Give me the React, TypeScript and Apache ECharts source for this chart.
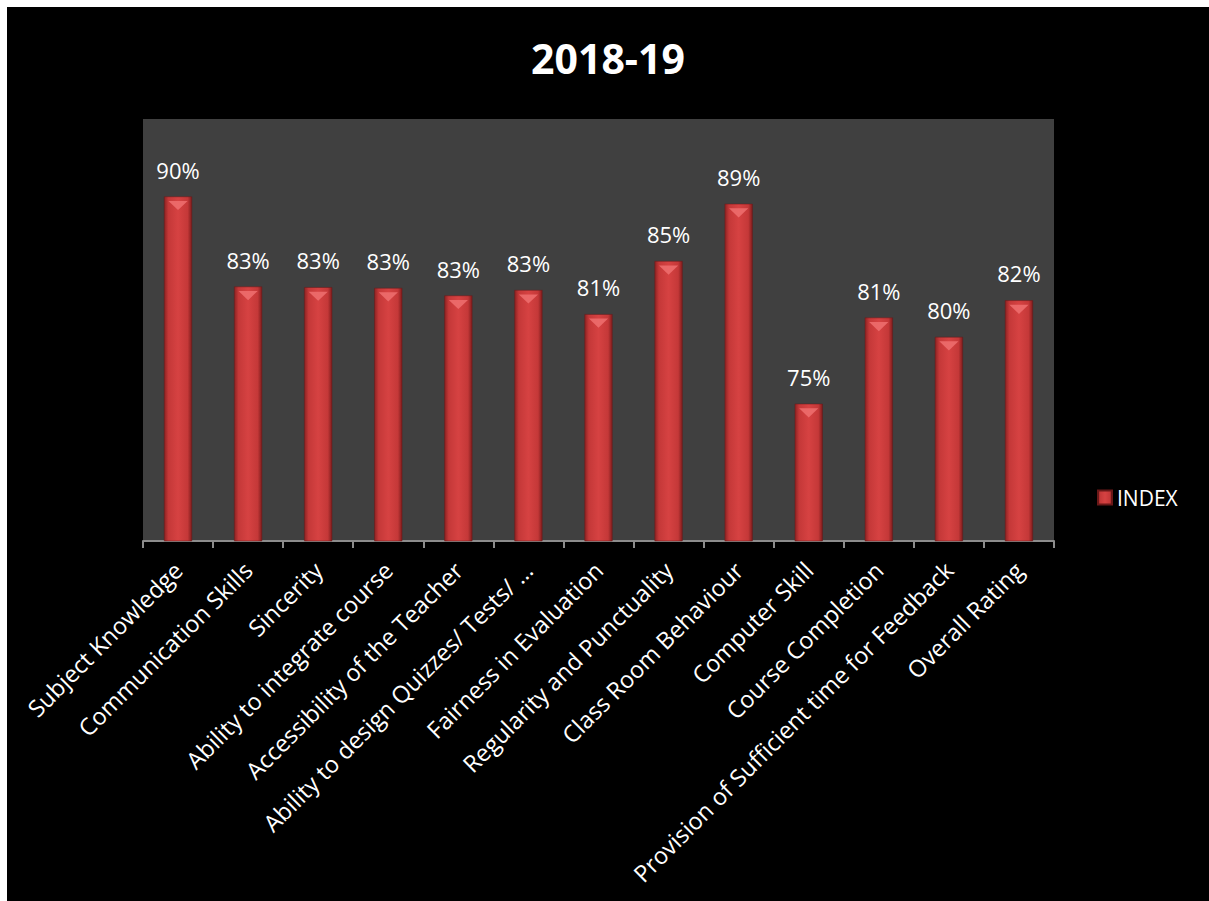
import React, { useEffect, useRef } from "react";
import * as echarts from "echarts";

const categories = [
  "Subject Knowledge",
  "Communication Skills",
  "Sincerity",
  "Ability to integrate course",
  "Accessibility of the Teacher",
  "Ability to design Quizzes/ Tests/ …",
  "Fairness in Evaluation",
  "Regularity and Punctuality",
  "Class Room Behaviour",
  "Computer Skill",
  "Course Completion",
  "Provision of Sufficient time for Feedback",
  "Overall Rating",
];

const indexValues = [
  0.8998, 0.8345, 0.834, 0.8335, 0.828, 0.832, 0.8145, 0.853, 0.8945, 0.7495,
  0.812, 0.798, 0.8245,
];

const seriesName = "INDEX";
const titleText = "2018-19";

export default function App() {
  const ref = useRef<HTMLDivElement>(null);
  useEffect(() => {
    if (!ref.current) return;
    const chart = echarts.init(ref.current, null, { renderer: "svg" });
    const font = "'Open Sans', sans-serif";
    const barGrad = new echarts.graphic.LinearGradient(0, 0, 1, 0, [
      { offset: 0, color: "#8e2222" },
      { offset: 0.15, color: "#c43838" },
      { offset: 0.5, color: "#d64242" },
      { offset: 0.85, color: "#c43838" },
      { offset: 1, color: "#7e1c1c" },
    ]);
    chart.setOption({
      animation: false,
      backgroundColor: "#000000",
      title: {
        text: titleText,
        left: "center",
        top: 25,
        textStyle: {
          color: "#ffffff",
          fontSize: 41,
          fontWeight: "bold",
          fontFamily: font,
        },
      },
      legend: {
        data: [seriesName],
        left: 1085,
        top: 475,
        icon: "rect",
        itemWidth: 14,
        itemHeight: 14,
        itemGap: 6,
        textStyle: { color: "#ffffff", fontSize: 21, fontFamily: font },
      },
      grid: {
        left: 136,
        top: 112,
        width: 911,
        height: 422,
        show: true,
        backgroundColor: "#404040",
        borderWidth: 0,
      },
      xAxis: {
        type: "category",
        data: categories,
        axisLine: { show: true, lineStyle: { color: "#8c8c8c", width: 2 } },
        axisTick: { show: true, length: 7, lineStyle: { color: "#8c8c8c", width: 2 } },
        axisLabel: {
          rotate: 45,
          interval: 0,
          margin: 25,
          color: "#ffffff",
          fontSize: 23.5,
          fontFamily: font,
        },
      },
      yAxis: {
        type: "value",
        min: 0.65,
        max: 0.956,
        show: false,
        splitLine: { show: false },
      },
      series: [
        {
          name: seriesName,
          type: "bar",
          data: indexValues,
          barWidth: "40%",
          itemStyle: { color: barGrad, borderColor: "#6a1818", borderWidth: 0.5 },
          label: {
            show: true,
            position: "top",
            distance: 16,
            color: "#ffffff",
            fontSize: 22,
            fontFamily: font,
            formatter: (p: any) => Math.round(p.value * 100) + "%",
          },
        },
        {
          name: "bevel",
          type: "pictorialBar",
          data: indexValues,
          symbol: "path://M0,0 L20,0 L10,6 Z",
          symbolSize: ["40%", 9],
          symbolPosition: "end",
          symbolOffset: [0, "50%"],
          itemStyle: { color: "#ee7070", opacity: 0.85 },
          z: 3,
          silent: true,
          tooltip: { show: false },
        },
      ],
    });
    return () => chart.dispose();
  }, []);
  return (
    <div
      style={{
        position: "fixed",
        left: 0,
        top: 0,
        width: 1209,
        height: 901,
        background: "#ffffff",
      }}
    >
      <div
        ref={ref}
        style={{ position: "absolute", left: 7, top: 7, width: 1202, height: 894 }}
      />
    </div>
  );
}
